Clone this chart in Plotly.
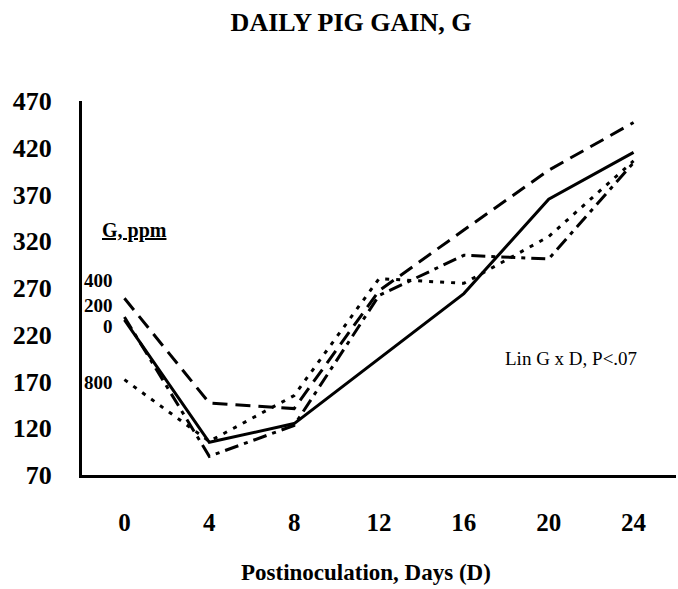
import plotly.graph_objects as go

# ---- data ----
days = [0, 4, 8, 12, 16, 20, 24]
tick_vals_y = [70, 120, 170, 220, 270, 320, 370, 420, 470]
g0 = [236, 105, 125, 194, 264, 365, 415]
g200 = [239, 90, 123, 262, 305, 301, 404]
g400 = [259, 147, 141, 267, 332, 396, 447]
g800 = [172, 106, 155, 280, 275, 325, 406]
series_names = ["0", "200", "400", "800"]

W, H = 678, 589
L, R, T, B = 82, 2, 101, 114
PW, PH = W - L - R, H - T - B

def px(x):
    return (x - L) / PW

def py(y):
    return (H - B - y) / PH

FONT = "Liberation Serif"

fig = go.Figure()
styles = [
    (g0, "solid"),
    (g200, "14px,6px,4px,6px"),
    (g400, "15px,8px"),
    (g800, "4px,7px"),
]
for (vals, dash), name in zip(styles, series_names):
    fig.add_trace(go.Scatter(
        x=days, y=vals, mode="lines", name=name,
        line=dict(color="black", width=3, dash=dash),
        showlegend=False, hoverinfo="skip",
    ))

annotations = [
    dict(text="<b><u>G, ppm</u></b>", x=px(134), y=py(230), xanchor="center", yanchor="middle",
         font=dict(size=20)),
    dict(text="<b>400</b>", x=px(115), y=py(280), xanchor="right", yanchor="middle", font=dict(size=19)),
    dict(text="<b>200</b>", x=px(115), y=py(305), xanchor="right", yanchor="middle", font=dict(size=19)),
    dict(text="<b>0</b>", x=px(115), y=py(326), xanchor="right", yanchor="middle", font=dict(size=19)),
    dict(text="<b>800</b>", x=px(115), y=py(382), xanchor="right", yanchor="middle", font=dict(size=19)),
    dict(text="Lin G x D, P<.07", x=px(571), y=py(358), xanchor="center", yanchor="middle",
         font=dict(size=19)),
    dict(text="<b>Postinoculation, Days (D)</b>", x=px(366), y=py(572), xanchor="center",
         yanchor="middle", font=dict(size=23)),
]
for a in annotations:
    a.update(xref="paper", yref="paper", showarrow=False)
    a["font"].update(family=FONT, color="black")

fig.update_layout(
    width=W, height=H,
    margin=dict(l=L, r=R, t=T, b=B),
    paper_bgcolor="white", plot_bgcolor="white",
    font=dict(family=FONT, color="black"),
    title=dict(text="<b>DAILY PIG GAIN, G</b>", x=351 / W, xanchor="center",
               y=1 - 22 / H, yanchor="middle", font=dict(size=26, family=FONT, color="black")),
    annotations=annotations,
    xaxis=dict(range=[-2, 26], tickvals=days, ticktext=[f"<b>{d}</b>" for d in days],
               showgrid=False, zeroline=False, showline=True, linecolor="black", linewidth=3,
               ticks="", tickfont=dict(size=25, family=FONT, color="black"),
               ticklabelstandoff=23),
    yaxis=dict(range=[70, 470], tickvals=tick_vals_y, ticktext=[f"<b>{v}</b>" for v in tick_vals_y],
               showgrid=False, zeroline=False, showline=True, linecolor="black", linewidth=3,
               ticks="", tickfont=dict(size=26, family=FONT, color="black"),
               ticklabelstandoff=22),
)

fig.write_html("out.html", config={"displayModeBar": False},
               post_script="document.body.style.margin='0';")
